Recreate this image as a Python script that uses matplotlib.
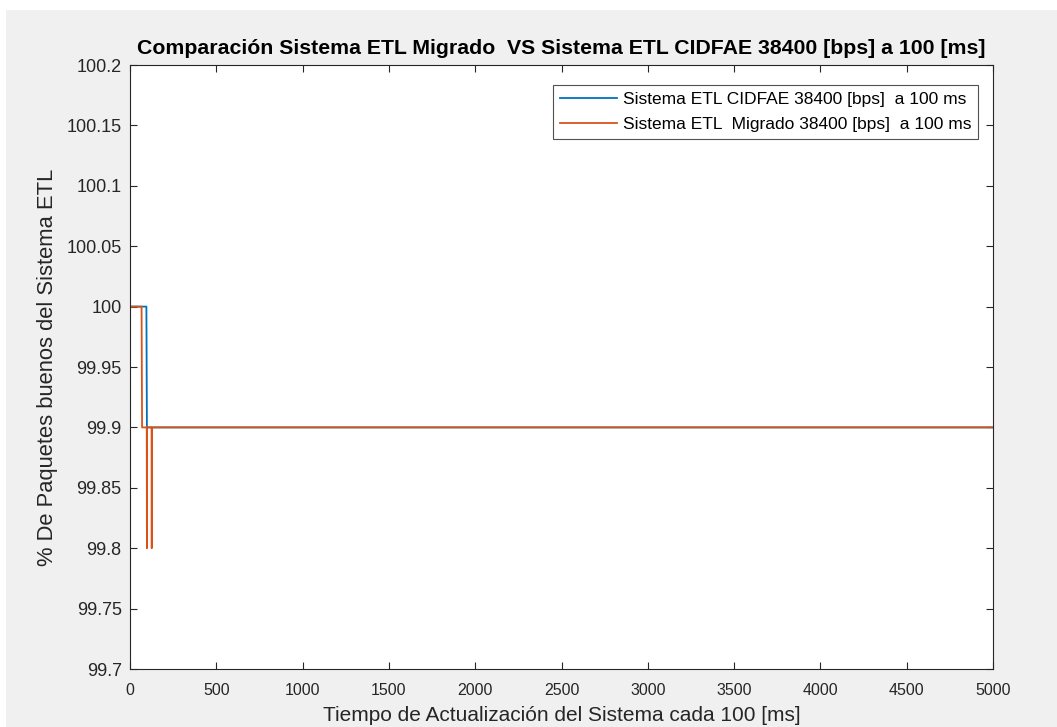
import matplotlib
matplotlib.use("Agg")
import matplotlib.pyplot as plt
from matplotlib.patches import Rectangle

plt.rcParams['font.family'] = ['Liberation Sans', 'DejaVu Sans']

# Sistema ETL CIDFAE: update index vs % good packets
cidfae_x = [0, 95, 98, 5000]
cidfae_y = [100.0, 100.0, 99.9, 99.9]

# Sistema ETL Migrado
migrado_x = [0, 67, 70, 97, 98, 99, 125, 126, 127, 5000]
migrado_y = [100.0, 100.0, 99.9, 99.9, 99.8, 99.9, 99.9, 99.8, 99.9, 99.9]

xticks = [0, 500, 1000, 1500, 2000, 2500, 3000, 3500, 4000, 4500, 5000]
yticks = [99.7, 99.75, 99.8, 99.85, 99.9, 99.95, 100, 100.05, 100.1, 100.15, 100.2]
ytick_labels = ['99.7', '99.75', '99.8', '99.85', '99.9', '99.95', '100',
                '100.05', '100.1', '100.15', '100.2']

W, H = 1057, 727
fig = plt.figure(figsize=(W / 100, H / 100), dpi=100, facecolor='white')
fig.patches.append(Rectangle((6 / W, 0), 1 - 6 / W, 1 - 10 / H,
                             transform=fig.transFigure, facecolor='#f0f0f0',
                             edgecolor='none', zorder=-10))

ax = fig.add_axes([130 / W, 1 - 669 / H, (993 - 130) / W, (669 - 65) / H])
ax.set_facecolor('white')

blue = '#0072BD'
orange = '#D95319'
ax.plot(cidfae_x, cidfae_y, color=blue, lw=1.3,
        label='Sistema ETL CIDFAE 38400 [bps]  a 100 ms')
ax.plot(migrado_x, migrado_y, color=orange, lw=1.3,
        label='Sistema ETL  Migrado 38400 [bps]  a 100 ms')

ax.set_xlim(0, 5000)
ax.set_ylim(99.7, 100.2)
ax.set_xticks(xticks)
ax.set_yticks(yticks)
ax.set_yticklabels(ytick_labels)

ax.tick_params(direction='in', length=5, width=0.8, top=True, right=True,
               colors='#262626')
ax.tick_params(axis='x', labelsize=11.5, pad=10)
ax.tick_params(axis='y', labelsize=13, pad=6)
for s in ax.spines.values():
    s.set_color('#262626')
    s.set_linewidth(0.8)

ax.set_title('Comparación Sistema ETL Migrado  VS Sistema ETL CIDFAE 38400 [bps] a 100 [ms]',
             fontsize=15.3, fontweight='bold', color='black', pad=8)
ax.set_xlabel('Tiempo de Actualización del Sistema cada 100 [ms]',
              fontsize=15, color='#262626', labelpad=6)
ax.set_ylabel('% De Paquetes buenos del Sistema ETL',
              fontsize=15.8, color='#262626', labelpad=6)

leg = ax.legend(loc='upper right', bbox_to_anchor=(0.9826, 0.9669),
                fontsize=12.5, frameon=True, fancybox=False,
                edgecolor='#262626', handlelength=3.3, handletextpad=0.3,
                borderaxespad=0.0, borderpad=0.4, labelspacing=0.55)
leg.get_frame().set_linewidth(0.8)

fig.savefig('out.png', dpi=100, facecolor=fig.get_facecolor())
